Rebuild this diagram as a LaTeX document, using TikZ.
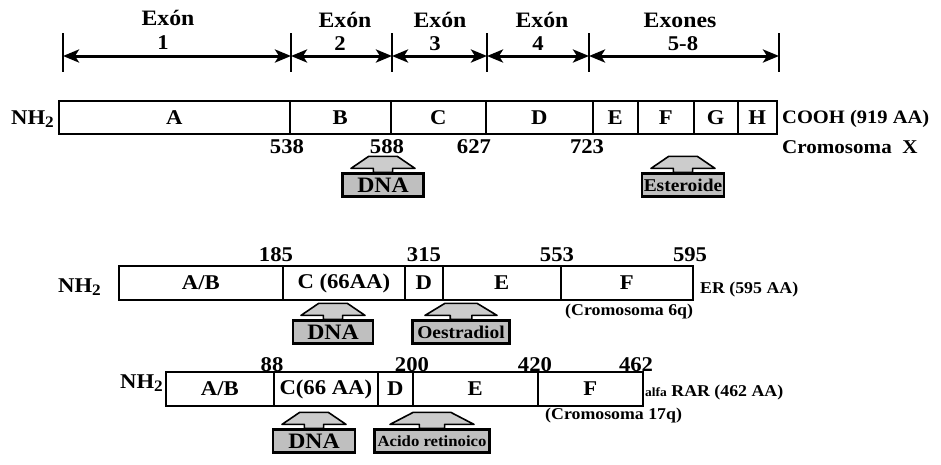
\documentclass[tikz,border=0pt]{standalone}
\usepackage{fontspec}
\setmainfont{Liberation Serif}[FakeStretch=1.08]
\usetikzlibrary{arrows.meta,calc}
\newcommand\fsz[1]{\fontsize{#1}{#1}\selectfont\bfseries}
\newcommand\nhtwo{NH\raisebox{-0.35ex}{\fsz{16}2}}
\newcommand\tagroof[2]{%
  \fill[gray!45] ($(#1.north)+(-0.3*#2,1)$) rectangle ($(#1.north)+(0.3*#2,-15)$);
  \filldraw[roofst] ($(#1.north)+(-#2,-4)$) -- ($(#1.north)+(-0.45*#2,-16)$)
     -- ($(#1.north)+(0.45*#2,-16)$) -- ($(#1.north)+(#2,-4)$)
     -- ($(#1.north)+(0.3*#2,-4)$) -- ($(#1.north)+(0.3*#2,0)$)
     -- ($(#1.north)+(-0.3*#2,0)$) -- ($(#1.north)+(-0.3*#2,-4)$) -- cycle;}
\begin{document}
\begin{tikzpicture}[x=1pt,y=-1pt,
  seg/.style={draw, line width=1.6pt, minimum height=33pt, inner sep=0pt,
    anchor=west, font=\fsz{21}},
  lbl/.style={inner sep=0pt, font=\fsz{21}},
  small/.style={inner sep=0pt, font=\fsz{16.5}, anchor=west},
  tick/.style={line width=2.2pt},
  exarrow/.style={line width=3pt, {Stealth[length=16pt,width=13pt,inset=4pt]}-{Stealth[length=16pt,width=13pt,inset=4pt]}},
  tagbox/.style={draw=black, line width=2.2pt, fill=gray!50, inner sep=0pt,
    minimum height=23pt, font=\fsz{22}},
  roofst/.style={fill=gray!40, draw=black, line width=1.6pt, line join=round}]
\useasboundingbox (0,0) rectangle (941,464);

% ---------- exon header ----------
\coordinate (t0) at (63,56);
\coordinate (t1) at (291,56);
\coordinate (t2) at (392,56);
\coordinate (t3) at (487,56);
\coordinate (t4) at (589,56);
\coordinate (t5) at (779,56);
\foreach \t in {t0,t1,t2,t3,t4,t5}
  \draw[tick] ($(\t)+(0,-23)$) -- ($(\t)+(0,16)$);
\draw[exarrow] (t0) -- (t1);
\draw[exarrow] (t1) -- (t2);
\draw[exarrow] (t2) -- (t3);
\draw[exarrow] (t3) -- (t4);
\draw[exarrow] (t4) -- (t5);
\node[lbl, font=\fsz{22}] (ex1) at (168,18) {Exón};
\node[lbl, font=\fsz{22}] (ex2) at (345,20) {Exón};
\node[lbl, font=\fsz{22}] (ex3) at (440,20) {Exón};
\node[lbl, font=\fsz{22}] (ex4) at (542,20) {Exón};
\node[lbl, font=\fsz{22}] (ex5) at (680,20) {Exones};
\node[lbl] (n1) at (163,43) {1};
\node[lbl] (n2) at (340,44) {2};
\node[lbl] (n3) at (435,44) {3};
\node[lbl] (n4) at (538,44) {4};
\node[lbl] (n5) at (683,44) {5-8};

% ---------- bar 1 ----------
\node[lbl, anchor=east] (nh1) at (54,119) {\nhtwo};
\node[seg, minimum width=231pt] (a1) at (58,117.5) {A};
\node[seg, minimum width=101pt] (b1) at (289,117.5) {B};
\node[seg, minimum width=95pt]  (c1) at (390,117.5) {C};
\node[seg, minimum width=107pt] (d1) at (485,117.5) {D};
\node[seg, minimum width=45pt]  (e1) at (592,117.5) {E};
\node[seg, minimum width=56pt]  (f1) at (637,117.5) {F};
\node[seg, minimum width=44pt]  (g1) at (693,117.5) {G};
\node[seg, minimum width=39pt]  (h1) at (737,117.5) {H};
\node[small, font=\fsz{19}] (cooh) at (782,119) {COOH (919 AA)};
\node[small, font=\fsz{19.5}] (crx) at (782,147) {Cromosoma\ \ X};
\node[lbl] (p538) at (287,147) {538};
\node[lbl] (p588) at (387,147) {588};
\node[lbl] (p627) at (474,147) {627};
\node[lbl] (p723) at (587,147) {723};
\node[tagbox, minimum width=81pt] (dna1) at (383,185) {DNA};
\node[tagbox, minimum width=82pt, font=\fsz{18}] (est) at (683,185) {Esteroide};
\tagroof{dna1}{32}
\tagroof{est}{32}

% ---------- bar 2 ----------
\node[lbl, anchor=east] (nh2) at (101,287) {\nhtwo};
\node[seg, minimum width=164pt, minimum height=34pt] (ab2) at (118,283) {A/B};
\node[seg, minimum width=122pt, minimum height=34pt] (c2) at (282,283) {C (66AA)};
\node[seg, minimum width=38pt, minimum height=34pt]  (d2) at (404,283) {D};
\node[seg, minimum width=118pt, minimum height=34pt] (e2) at (442,283) {E};
\node[seg, minimum width=132pt, minimum height=34pt] (f2) at (560,283) {F};
\node[lbl] (p185) at (276,255) {185};
\node[lbl] (p315) at (424,255) {315};
\node[lbl] (p553) at (557,255) {553};
\node[lbl] (p595) at (690,255) {595};
\node[small] (er) at (700,290) {ER (595 AA)};
\node[small] (cr6) at (565,312) {(Cromosoma 6q)};
\node[tagbox, minimum width=80pt] (dna2) at (333,332) {DNA};
\node[tagbox, minimum width=97pt, font=\fsz{18}] (oes) at (461,332) {Oestradiol};
\tagroof{dna2}{32}
\tagroof{oes}{36}

% ---------- bar 3 ----------
\node[lbl, anchor=east] (nh3) at (163,383) {\nhtwo};
\node[seg, minimum width=108pt, minimum height=34pt] (ab3) at (165,389) {A/B};
\node[seg, minimum width=104pt, minimum height=34pt] (c3) at (273,389) {C(66 AA)};
\node[seg, minimum width=35pt, minimum height=34pt]  (d3) at (377,389) {D};
\node[seg, minimum width=125pt, minimum height=34pt] (e3) at (412,389) {E};
\node[seg, minimum width=105pt, minimum height=34pt] (f3) at (537,389) {F};
\node[lbl] (p88) at (272,365) {88};
\node[lbl] (p200) at (412,365) {200};
\node[lbl] (p420) at (535,365) {420};
\node[lbl] (p462) at (636,365) {462};
\node[small] (rar) at (645,393) {{\fsz{12.5}alfa} RAR (462 AA)};
\node[small] (cr17) at (545,416) {(Cromosoma 17q)};
\node[tagbox, minimum width=82pt] (dna3) at (314,441) {DNA};
\node[tagbox, minimum width=115pt, font=\fsz{15.5}] (acr) at (432,441) {Acido retinoico};
\tagroof{dna3}{32}
\tagroof{acr}{42}
\end{tikzpicture}
\end{document}
